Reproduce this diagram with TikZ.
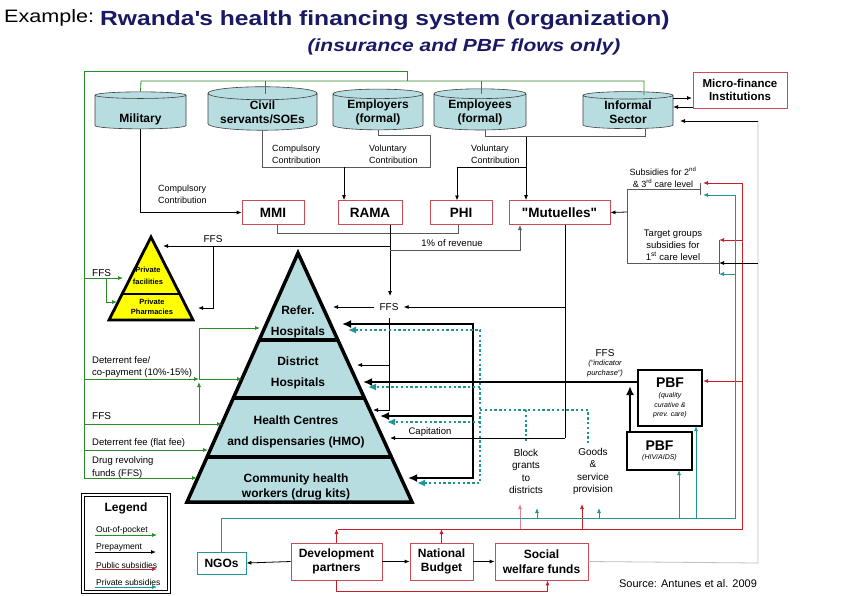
\documentclass[tikz,border=0pt]{standalone}
\usepackage{fontspec}
\setmainfont{Liberation Sans}
\newfontfamily\widesans[FakeStretch=1.2]{Liberation Sans}
\usetikzlibrary{arrows.meta, shapes.geometric, calc}
\definecolor{cylblue}{RGB}{183,221,224}
\definecolor{pocketgreen}{RGB}{40,140,40}
\definecolor{subsred}{RGB}{200,30,40}
\definecolor{boxred}{RGB}{205,75,85}
\definecolor{privteal}{RGB}{30,150,150}
\definecolor{titlenavy}{RGB}{25,25,100}
\definecolor{pvtyellow}{RGB}{255,255,0}

\begin{document}
\begin{tikzpicture}[
    x=1pt, y=-1pt,
    >={Latex[length=5pt,width=4pt]},
    font=\fontsize{9.5}{12}\selectfont,
    fundcyl/.style={cylinder, shape border rotate=90, aspect=0.15, draw=black!75, line width=0.6pt, fill=cylblue, align=center, font=\bfseries\fontsize{12}{14}\selectfont, minimum height=37pt, inner sep=1pt},
    insbox/.style={draw=boxred, line width=0.8pt, fill=white, font=\bfseries\fontsize{13.5}{15}\selectfont, minimum height=24pt, inner sep=0pt},
    donorbox/.style={draw=boxred, line width=0.8pt, fill=white, align=center, font=\bfseries\fontsize{12}{14.5}\selectfont, minimum height=37pt, inner sep=0pt},
    pbfbox/.style={draw=black, line width=2.2pt, fill=white, align=center, font=\itshape\fontsize{7}{9.5}\selectfont, inner sep=0pt},
    flowtext/.style={font=\fontsize{9.5}{12.3}\selectfont, align=center, inner sep=0pt},
    lefttext/.style={font=\fontsize{9.5}{11.5}\selectfont, anchor=west, align=left, inner sep=0pt},
    layertext/.style={font=\bfseries\fontsize{12}{21}\selectfont, align=center, inner sep=0pt},
    legtext/.style={font=\fontsize{8.5}{10}\selectfont, anchor=west, inner sep=0pt},
    pocketline/.style={draw=pocketgreen, line width=0.8pt},
    pocket/.style={->, draw=pocketgreen, line width=0.8pt},
    prepay/.style={->, draw=black, line width=0.8pt},
    bigpay/.style={-{Latex[length=9pt,width=8pt]}, draw=black, line width=2.4pt},
    pubsub/.style={->, draw=subsred, line width=0.8pt},
    privsub/.style={->, draw=privteal, line width=0.8pt},
    privdot/.style={-{Latex[length=8pt,width=7pt]}, draw=privteal, line width=2.4pt, dash pattern=on 2.4pt off 2.4pt},
    joinline/.style={draw=black!65, line width=0.7pt},
    graylink/.style={draw=black!25, line width=0.8pt}
]
\useasboundingbox (0,0) rectangle (842,595);
\fill[white] (0,0) rectangle (842,595);

% title
\node[anchor=west, inner sep=0pt, font=\widesans\fontsize{18}{20}\selectfont] (exmpl) at (4,18) {Example:};
\node[anchor=west, inner sep=0pt, text=titlenavy, font=\widesans\bfseries\fontsize{20.5}{24}\selectfont] (ttl) at (100,20) {Rwanda\textquotesingle s health financing system (organization)};
\node[inner sep=0pt, text=titlenavy, font=\widesans\bfseries\itshape\fontsize{17.5}{20}\selectfont] (subttl) at (464,47) {(insurance and PBF flows only)};

% contributors
\node[fundcyl, minimum width=91pt] (mil) at (140.5,112.5) {\raisebox{-9.5pt}[0pt][0pt]{Military}};
\node[fundcyl, minimum width=109pt] (civ) at (262.5,112.5) {Civil\\servants/SOEs};
\node[fundcyl, minimum width=90pt] (empr) at (378,112.5) {Employers\\(formal)};
\node[fundcyl, minimum width=92pt] (empe) at (480,112.5) {Employees\\(formal)};
\node[fundcyl, minimum width=90pt] (infs) at (628,112.5) {Informal\\Sector};
\node[insbox, align=center, font=\bfseries\fontsize{11.5}{13}\selectfont, minimum width=94pt, minimum height=36pt] (mfi) at (740,90) {Micro-finance\\Institutions};

% insurers
\node[insbox, minimum width=62pt] (mmi) at (273,212.5) {MMI};
\node[insbox, minimum width=64pt] (rama) at (370,212.5) {RAMA};
\node[insbox, minimum width=62pt] (phi) at (461,212.5) {PHI};
\node[insbox, minimum width=101pt] (mut) at (559.5,212.5) {\textquotedbl Mutuelles\textquotedbl};

% funders
\node[draw=privteal, line width=0.8pt, fill=white, font=\bfseries\fontsize{12}{14}\selectfont, minimum width=49pt, minimum height=22pt, inner sep=0pt] (ngo) at (221.5,563) {NGOs};
\node[donorbox, minimum width=91pt] (devp) at (336.5,561.5) {Development\\partners};
\node[donorbox, minimum width=63pt] (natb) at (441.5,561.5) {National\\Budget};
\node[donorbox, minimum width=93pt] (socw) at (541.5,561.5) {Social\\welfare funds};

% PBF boxes
\node[pbfbox, minimum width=64pt, minimum height=56pt] (pbfq) at (670,398) {{\upshape\bfseries\fontsize{14}{15}\selectfont PBF}\\[1pt](quality\\curative \&\\prev. care)};
\node[pbfbox, minimum width=65pt, minimum height=38pt] (pbfh) at (659.5,451) {{\upshape\bfseries\fontsize{14}{15}\selectfont PBF}\\(HIV/AIDS)};

% providers pyramid
\filldraw[fill=cylblue, line width=3.5pt] (298,253) -- (412,502) -- (187,502) -- cycle;
\draw[line width=3.5pt] (258.7,340) -- (337.3,340);
\draw[line width=3.5pt] (232.5,398) -- (363.5,398);
\draw[line width=3.5pt] (205.8,457) -- (390.2,457);
\node[layertext] (refh) at (298,322) {Refer.\\Hospitals};
\node[layertext] (disth) at (298,373) {District\\Hospitals};
\node[layertext] (hcen) at (296,432) {Health Centres\\and dispensaries (HMO)};
\node[layertext, font=\bfseries\fontsize{12}{14.5}\selectfont] (chw) at (296,487) {Community health\\workers (drug kits)};

% private providers
\filldraw[fill=pvtyellow, line width=2.8pt] (151,237) -- (193,320) -- (109,320) -- cycle;
\draw[line width=2.8pt] (122.2,294) -- (179.8,294);
\node[flowtext, font=\bfseries\fontsize{7.5}{12}\selectfont] (pfac) at (148,276) {Private\\facilities};
\node[flowtext, font=\bfseries\fontsize{7.5}{10}\selectfont] (pphar) at (152,307) {Private\\Pharmacies};

% out-of-pocket
\draw[pocketline] (84,478) -- (84,71) -- (407,71) -- (407,81);
\draw[pocketline] (mil.north) -- (141,81) -- (644,81) -- (644,95);
\draw[pocketline] (265,81) -- (265,94);
\draw[pocketline] (481,81) -- (481,94);
\draw[pocket] (84,278) -- (123,278);
\draw[pocket] (106,278) |- (117,302);
\draw[pocket] (84,379) -- (199,379);
\draw[pocket] (199,379) -- (242,379);
\draw[pocket] (199,379) |- (260,328);
\draw[pocket] (84,424) -- (222,424);
\draw[pocket] (199,424) -- (199,382);
\draw[pocket] (84,450) -- (208,450);
\draw[pocket] (84,478) -- (197,478);
\node[lefttext, font=\fontsize{10}{12}\selectfont] at (92,273) {FFS};
\node[lefttext] at (92,367) {Deterrent fee/\\co-payment (10\%-15\%)};
\node[lefttext, font=\fontsize{10}{12}\selectfont] at (92,416) {FFS};
\node[lefttext] at (92,443) {Deterrent fee (flat fee)};
\node[lefttext, font=\fontsize{9.5}{13}\selectfont] at (92,468) {Drug revolving\\funds (FFS)};

% contributions
\draw[prepay] (mil.south) |- (mmi.west);
\node[lefttext, font=\fontsize{9}{12}\selectfont] at (158,194) {Compulsory\\Contribution};
\draw[joinline] (civ.south) |- (430,167) -- (430,135) -| (empr.south);
\coordinate (cvrama) at (344,167);
\draw[prepay] (cvrama) -- (cvrama |- rama.north);
\node[lefttext, font=\fontsize{9}{12}\selectfont] at (272,154) {Compulsory\\Contribution};
\node[lefttext, font=\fontsize{9}{12}\selectfont] at (369,154) {Voluntary\\Contribution};
\draw[joinline] ($(empe.south)+(5,0)$) -- ++(0,6) -| ($(infs.south)+(17,0)$);
\coordinate (cvmut) at (526,137);
\draw[prepay] (cvmut) -- (cvmut |- mut.north);
\draw[prepay] (526,167) -| (457,200.5);
\node[lefttext, font=\fontsize{9}{12}\selectfont] at (471,154) {Voluntary\\Contribution};
\draw[prepay] (673,98) -- (692,98);
\draw[prepay] (mfi.west |- 0,107) -- (673,107);

% insurers pay providers
\draw[joinline] (277,224.5) -- (277,233) -- (458,233) -- (458,224.5);
\draw[prepay] (390,224.5) -- (390,296);
\node[flowtext, font=\fontsize{10}{12}\selectfont, inner xsep=5pt] (ffsmid) at (389,307) {FFS};
\draw[prepay] (390,246) -- (163,246);
\node[flowtext, font=\fontsize{10}{12}\selectfont] at (213,239) {FFS};
\draw[prepay] (213,246) |- (198,308);
\draw[joinline, ->] (390,250) -| (520,225);
\node[flowtext] at (452,243) {1\% of revenue};
\draw[prepay] (ffsmid.west) -- (333,307);
\draw[prepay] (389,318) |- (373,410);
\draw[prepay] (389,365) -- (357,365);
\draw[draw=black, line width=0.8pt] (565,224.5) -- (565,438);
\draw[prepay] (565,307) -- (ffsmid.east);
\draw[prepay] (565,438) -- (390,438);
\node[flowtext] at (430,432) {Capitation};

% performance based financing
\draw[bigpay] (pbfq.west |- 0,382) -- (363,382);
\draw[{Latex[length=9pt,width=8pt]}-{Latex[length=9pt,width=8pt]}, line width=2.4pt] (342,324) -- (473,324) -- (473,478) -- (408,478);
\draw[bigpay] (473,416) -- (380,416);
\draw[bigpay] (630,432) -- (630,386);
\node[flowtext, font=\fontsize{10}{12}\selectfont] at (605,353) {FFS};
\node[flowtext, font=\itshape\fontsize{7.5}{10}\selectfont] at (605,369) {(``indicator\\purchase'')};

% private subsidies to providers
\draw[{Latex[length=8pt,width=7pt]}-{Latex[length=8pt,width=7pt]}, draw=privteal, line width=2.4pt, dash pattern=on 2.4pt off 2.4pt] (348,330) -- (480,330) -- (480,483) -- (417,483);
\draw[privdot] (480,387) -- (368,387);
\draw[privdot] (480,422) -- (387,422);
\draw[privdot, -] (480,410) -| (588,443);
\draw[privdot, -] (526,410) -- (526,443);
\node[flowtext, font=\fontsize{10}{12.3}\selectfont] (blockg) at (526,471.5) {Block\\grants\\to\\districts};
\node[flowtext, font=\fontsize{10}{12.3}\selectfont] (goods) at (593,471.5) {Goods\\\&\\service\\provision};

% public subsidies
\coordinate (redrail) at (742,529);
\draw[draw=subsred, line width=0.8pt] (338,529) -- (redrail) -- (742,183);
\draw[pubsub] (devp.north) -- (devp.north |- redrail);
\draw[pubsub] (natb.north) -- (natb.north |- redrail);
\draw[pubsub] (devp.south) -- ++(0,11) -| ($(socw.south)+(6,0)$);
\draw[pubsub, draw=subsred!55] (520,529) -- (520,504);
\draw[pubsub] (582,529) -- (582,504);
\draw[pubsub] (742,183) -- (703,183);
\draw[pubsub] (742,240) -- (719,240);
\draw[pubsub] (742,381) -- (703,381);

% private subsidies
\coordinate (tealrail) at (735,518);
\draw[draw=privteal, line width=0.8pt] (ngo.north) |- (tealrail) -- (735,195);
\draw[privsub] (735,195) -- (703,195);
\draw[privsub] (735,274) -- (719,274);
\draw[privsub] (537,518) -- (537,508);
\draw[privsub] (599,518) -- (599,508);
\draw[privsub] (679,518) -- (679,470);
\draw[privsub] (696,518) -- (696,426);

% social welfare to informal sector
\draw[graylink] (socw.east) -- (758,563) -- (758,121);
\draw[prepay] (758,121) -- (680,121);
\draw[prepay] (758,263) -- (719,263);

% subsidies to mutuelles
\draw[joinline] (700,183) -- (700,195);
\draw[joinline] (700,189) -- (627,189) -- (627,263) -- (719,263);
\draw[joinline] (719,240) -- (719,274);
\draw[prepay] (627,212) -- (mut.east);
\node[flowtext, font=\fontsize{9}{12}\selectfont] at (663,177) {Subsidies for 2\textsuperscript{nd}\\\& 3\textsuperscript{rd} care level};
\node[flowtext, font=\fontsize{9.5}{12}\selectfont] at (673,245) {Target groups\\subsidies for\\1\textsuperscript{st} care level};

% funders
\draw[prepay] (devp.west) -- (ngo.east);
\draw[prepay] (devp.east) -- (natb.west);
\draw[prepay] (natb.east) -- (socw.west);

% legend
\node[draw, double, line width=1.1pt, double distance=1.2pt, minimum width=86pt, minimum height=97pt, inner sep=0pt] (legend) at (126,543.5) {};
\node[font=\bfseries\fontsize{12}{14}\selectfont, inner sep=0pt] (legtitle) at (126,508) {Legend};
\node[legtext] (lgoop) at (96,530) {Out-of-pocket};
\draw[pocket] (95,535) -- (157,535);
\node[legtext] (lgpre) at (96,547) {Prepayment};
\draw[prepay] (95,552) -- (156,552);
\node[legtext] (lgpub) at (96,565) {Public subsidies};
\draw[pubsub] (95,569) -- (157,569);
\node[legtext] (lgpri) at (96,582) {Private subsidies};
\draw[privsub] (95,587) -- (157,587);

\node[inner sep=0pt, font=\fontsize{11}{13}\selectfont] (source) at (688,584) {Source: Antunes et al. 2009};
\end{tikzpicture}
\end{document}
